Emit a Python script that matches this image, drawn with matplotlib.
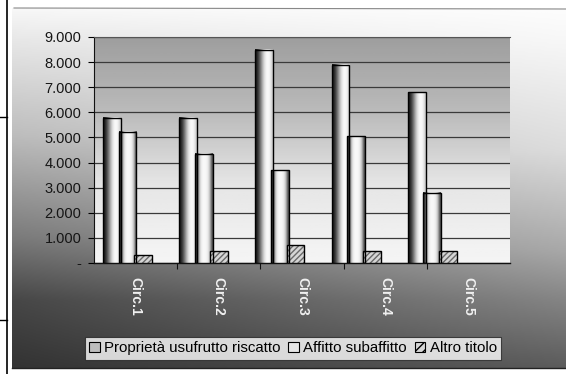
import numpy as np
import matplotlib
matplotlib.use("Agg")
import matplotlib.pyplot as plt
from matplotlib.patches import Patch
from matplotlib.ticker import FuncFormatter, MultipleLocator

plt.rcParams['font.family'] = ['Liberation Sans', 'DejaVu Sans']

categories = ["Circ.1", "Circ.2", "Circ.3", "Circ.4", "Circ.5"]
series_names = ["Proprietà usufrutto riscatto", "Affitto subaffitto", "Altro titolo"]
proprieta = [5780, 5780, 8500, 7900, 6800]
affitto = [5230, 4350, 3700, 5050, 2800]
altro = [330, 470, 700, 490, 470]
y_ticks = [0, 1000, 2000, 3000, 4000, 5000, 6000, 7000, 8000, 9000]

W, H = 566, 374
fig = plt.figure(figsize=(W / 100, H / 100), dpi=100)
fig.patch.set_facecolor('white')

# ---- background (chart area gradient) ----
bg = fig.add_axes([0, 0, 1, 1])
bg.set_xlim(0, W)
bg.set_ylim(H, 0)
bg.axis('off')
ys = np.linspace(8, 368, 200)
left_col = np.interp(ys, [8, 37, 135, 238, 300, 368], [0.97, 0.91, 0.74, 0.48, 0.28, 0.20])
right_col = np.interp(ys, [8, 37, 150, 250, 300, 368], [0.99, 0.97, 0.86, 0.66, 0.52, 0.36])
xs = np.linspace(0, 1, 200)
img = left_col[:, None] * (1 - xs[None, :]) + right_col[:, None] * xs[None, :]
bg.imshow(img, cmap='gray', vmin=0, vmax=1, extent=[12, 566, 368, 8],
          aspect='auto', interpolation='bicubic')
bg.plot([7, 7], [0, 374], color='black', lw=1.2)
bg.plot([0, 7], [117, 117], color='black', lw=1.0)
bg.plot([0, 7], [320, 320], color='black', lw=1.0)
bg.plot([14, 566], [8, 9], color='#888888', lw=0.8)
bg.plot([12, 566], [368, 368], color='#222222', lw=1.0)
bg.set_xlim(0, W)
bg.set_ylim(H, 0)

# ---- main plot ----
x0, x1, ytop, ybot = 94, 510, 37, 263
pos = [x0 / W, 1 - ybot / H, (x1 - x0) / W, (ybot - ytop) / H]
ax = fig.add_axes(pos)
xl = (-0.44, 5.02)
yl = (0, 9000)

wall = np.interp(np.linspace(0, 1, 100), [0, 0.35, 0.65, 1.0], [0.96, 0.90, 0.74, 0.62])[:, None]
ax.imshow(wall, cmap='gray', vmin=0, vmax=1, extent=[xl[0], xl[1], yl[0], yl[1]],
          origin='lower', aspect='auto', zorder=0)
ax.yaxis.set_major_locator(MultipleLocator(1000))
ax.grid(axis='y', color='#3a3a3a', lw=0.9, zorder=1)
ax.set_axisbelow(True)

grad1 = np.array([0.08, 0.18, 0.35, 0.55, 0.75, 0.90, 0.97, 0.98, 0.93, 0.80])
grad2 = np.array([0.10, 0.45, 0.85, 0.96, 0.98, 0.97, 0.92, 0.75, 0.30])
idx = np.arange(len(categories))
bw = 0.235
off = 0.205
for i in idx:
    for k, (vals, grad) in enumerate([(proprieta, grad1), (affitto, grad2)]):
        cx = i + (k - 1) * off
        ax.imshow(grad[None, :], cmap='gray', vmin=0, vmax=1,
                  extent=[cx - bw / 2, cx + bw / 2, 0, vals[i]],
                  aspect='auto', interpolation='bicubic', zorder=3)
ax.bar(idx - off, proprieta, width=bw, facecolor='none', edgecolor='black', lw=1.0, zorder=4)
ax.bar(idx, affitto, width=bw, facecolor='none', edgecolor='black', lw=1.0, zorder=4)
ax.bar(idx + off, altro, width=bw, facecolor='#d6d6d6', edgecolor='#6a6a6a', lw=0,
       hatch='//////', zorder=3)
ax.bar(idx + off, altro, width=bw, facecolor='none', edgecolor='black', lw=1.0, zorder=4)

ax.set_xlim(*xl)
ax.set_ylim(*yl)
ax.set_yticks(y_ticks)
ax.yaxis.set_major_formatter(FuncFormatter(
    lambda v, p: '-' if v == 0 else f"{int(v):,}".replace(',', '.')))
ax.tick_params(axis='y', direction='out', length=4, width=0.8, pad=5,
               labelsize=10.5, labelcolor='#151515')
ax.set_xticks([])
ax.spines['right'].set_visible(False)
ax.spines['top'].set_color('#555555')
ax.spines['top'].set_linewidth(0.8)
ax.spines['left'].set_color('#111111')
ax.spines['bottom'].set_color('#111111')
ax.spines['bottom'].set_linewidth(1.0)

# category axis (front edge of floor)
ax2 = fig.add_axes(pos, frameon=False)
ax2.patch.set_visible(False)
ax2.set_xlim(-0.5, 4.5)
ax2.set_ylim(0, 1)
ax2.set_yticks([])
ax2.set_xticks(idx)
ax2.set_xticklabels(categories, rotation=-90, fontsize=10, fontweight='bold',
                    color='#f0f0f0', va='top', ha='center')
ax2.tick_params(axis='x', length=0, pad=10)
ax2.set_xticks([0.5, 1.5, 2.5, 3.5], minor=True)
ax2.tick_params(axis='x', which='minor', length=4, width=0.8, color='#111111')

# ---- legend ----
handles = [
    Patch(facecolor='#bdbdbd', edgecolor='black', lw=0.8),
    Patch(facecolor='#e6e6e6', edgecolor='black', lw=0.8),
    Patch(facecolor='#d6d6d6', edgecolor='black', lw=0.8, hatch='////'),
]
leg = fig.legend(handles, series_names, loc='center', ncol=3,
                 bbox_to_anchor=(293 / W, 1 - 348 / H), fontsize=10.8,
                 frameon=True, fancybox=False, edgecolor='#222222',
                 handlelength=0.7, handleheight=0.7, handletextpad=0.3,
                 columnspacing=0.5, borderpad=0.3, borderaxespad=0)
leg.get_frame().set_facecolor('white')
leg.get_frame().set_linewidth(0.8)

fig.savefig('out.png', dpi=100)
